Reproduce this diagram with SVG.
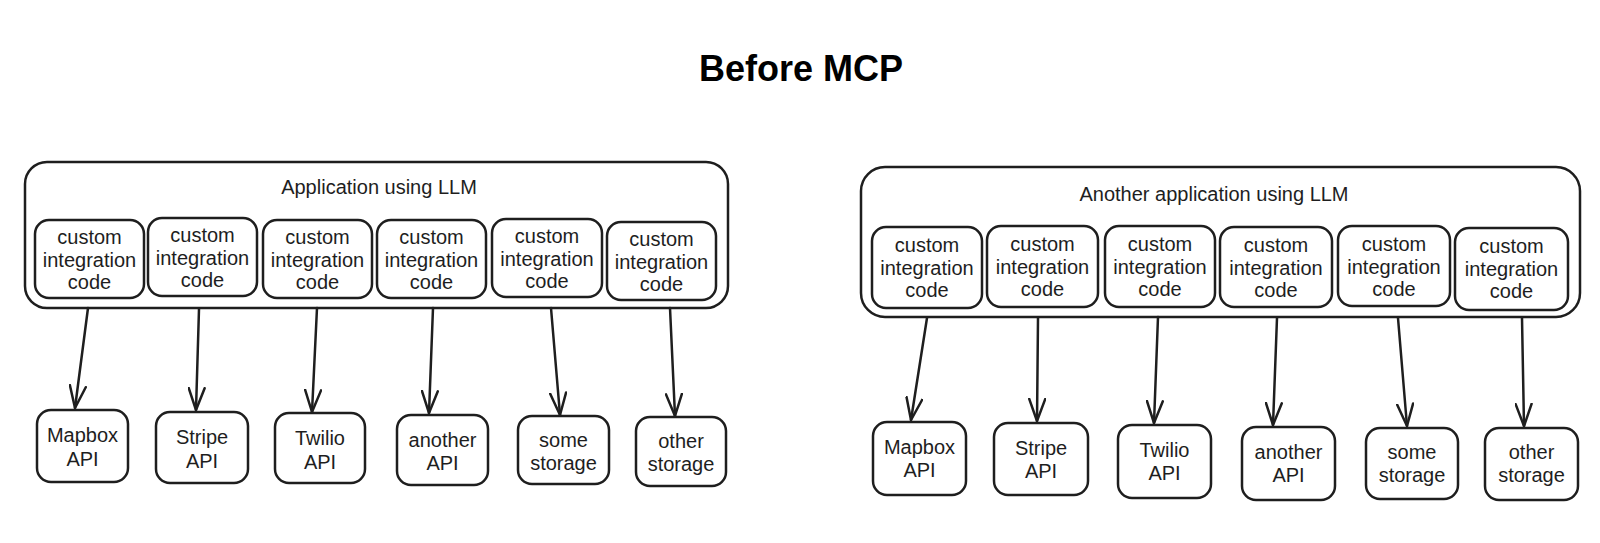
<svg xmlns="http://www.w3.org/2000/svg" width="1600" height="543" viewBox="0 0 1600 543">
<style>
.box{fill:#ffffff;stroke:#1e1e1e;stroke-width:2.5}
.t{font-family:"Liberation Sans","DejaVu Sans",sans-serif;font-size:20px;fill:#1e1e1e;text-anchor:middle}
.title{font-family:"Liberation Sans","DejaVu Sans",sans-serif;font-size:36px;font-weight:700;fill:#000;text-anchor:middle}
.c{fill:none;stroke:#1e1e1e;stroke-width:2.5;stroke-linecap:round}
</style>
<defs>
<marker id="arr" viewBox="0 0 24 18" markerWidth="24" markerHeight="18" refX="23" refY="9" orient="auto" markerUnits="userSpaceOnUse">
<path d="M1,1 L23,9 L1,17" fill="none" stroke="#1e1e1e" stroke-width="2.5" stroke-linecap="round" stroke-linejoin="round"/>
</marker>
</defs>
<rect width="1600" height="543" fill="#ffffff"/>
<text class="title" x="801" y="81">Before MCP</text>

<g id="app-left">
<rect class="box" x="25" y="162" width="703" height="146" rx="22"/>
<text class="t" x="379" y="194">Application using LLM</text>
</g>
<g id="app-right">
<rect class="box" x="861" y="167" width="719" height="150" rx="24"/>
<text class="t" x="1214" y="201">Another application using LLM</text>
</g>

<g id="l-code1"><rect class="box" x="35" y="220" width="109" height="78" rx="14"/><text class="t" x="89.5" y="244">custom</text><text class="t" x="89.5" y="267">integration</text><text class="t" x="89.5" y="289">code</text></g>
<g id="l-code2"><rect class="box" x="148" y="218" width="109" height="78" rx="14"/><text class="t" x="202.5" y="242">custom</text><text class="t" x="202.5" y="265">integration</text><text class="t" x="202.5" y="287">code</text></g>
<g id="l-code3"><rect class="box" x="263" y="220" width="109" height="78" rx="14"/><text class="t" x="317.5" y="244">custom</text><text class="t" x="317.5" y="267">integration</text><text class="t" x="317.5" y="289">code</text></g>
<g id="l-code4"><rect class="box" x="377" y="220" width="109" height="78" rx="14"/><text class="t" x="431.5" y="244">custom</text><text class="t" x="431.5" y="267">integration</text><text class="t" x="431.5" y="289">code</text></g>
<g id="l-code5"><rect class="box" x="492" y="219" width="110" height="78" rx="14"/><text class="t" x="547" y="243">custom</text><text class="t" x="547" y="266">integration</text><text class="t" x="547" y="288">code</text></g>
<g id="l-code6"><rect class="box" x="607" y="222" width="109" height="78" rx="14"/><text class="t" x="661.5" y="246">custom</text><text class="t" x="661.5" y="269">integration</text><text class="t" x="661.5" y="291">code</text></g>

<g id="r-code1"><rect class="box" x="872" y="227" width="110" height="81" rx="14"/><text class="t" x="927" y="252">custom</text><text class="t" x="927" y="275">integration</text><text class="t" x="927" y="297">code</text></g>
<g id="r-code2"><rect class="box" x="987" y="226" width="111" height="81" rx="14"/><text class="t" x="1042.5" y="251">custom</text><text class="t" x="1042.5" y="274">integration</text><text class="t" x="1042.5" y="296">code</text></g>
<g id="r-code3"><rect class="box" x="1105" y="226" width="110" height="81" rx="14"/><text class="t" x="1160" y="251">custom</text><text class="t" x="1160" y="274">integration</text><text class="t" x="1160" y="296">code</text></g>
<g id="r-code4"><rect class="box" x="1220" y="227" width="112" height="80" rx="14"/><text class="t" x="1276" y="252">custom</text><text class="t" x="1276" y="275">integration</text><text class="t" x="1276" y="297">code</text></g>
<g id="r-code5"><rect class="box" x="1338" y="226" width="112" height="80" rx="14"/><text class="t" x="1394" y="251">custom</text><text class="t" x="1394" y="274">integration</text><text class="t" x="1394" y="296">code</text></g>
<g id="r-code6"><rect class="box" x="1455" y="228" width="113" height="82" rx="14"/><text class="t" x="1511.5" y="253">custom</text><text class="t" x="1511.5" y="276">integration</text><text class="t" x="1511.5" y="298">code</text></g>

<g id="l-mapbox"><rect class="box" x="37" y="410" width="91" height="72" rx="14"/><text class="t" x="82.5" y="442">Mapbox</text><text class="t" x="82.5" y="466">API</text></g>
<g id="l-stripe"><rect class="box" x="156" y="412" width="92" height="71" rx="14"/><text class="t" x="202" y="444">Stripe</text><text class="t" x="202" y="468">API</text></g>
<g id="l-twilio"><rect class="box" x="275" y="413" width="90" height="70" rx="14"/><text class="t" x="320" y="445">Twilio</text><text class="t" x="320" y="469">API</text></g>
<g id="l-another"><rect class="box" x="397" y="415" width="91" height="70" rx="14"/><text class="t" x="442.5" y="447">another</text><text class="t" x="442.5" y="470">API</text></g>
<g id="l-some"><rect class="box" x="518" y="416" width="91" height="68" rx="14"/><text class="t" x="563.5" y="447">some</text><text class="t" x="563.5" y="470">storage</text></g>
<g id="l-other"><rect class="box" x="636" y="417" width="90" height="69" rx="14"/><text class="t" x="681" y="448">other</text><text class="t" x="681" y="471">storage</text></g>

<g id="r-mapbox"><rect class="box" x="873" y="422" width="93" height="73" rx="14"/><text class="t" x="919.5" y="454">Mapbox</text><text class="t" x="919.5" y="477">API</text></g>
<g id="r-stripe"><rect class="box" x="994" y="423" width="94" height="72" rx="14"/><text class="t" x="1041" y="455">Stripe</text><text class="t" x="1041" y="478">API</text></g>
<g id="r-twilio"><rect class="box" x="1118" y="425" width="93" height="73" rx="14"/><text class="t" x="1164.5" y="457">Twilio</text><text class="t" x="1164.5" y="480">API</text></g>
<g id="r-another"><rect class="box" x="1242" y="427" width="93" height="73" rx="14"/><text class="t" x="1288.5" y="459">another</text><text class="t" x="1288.5" y="482">API</text></g>
<g id="r-some"><rect class="box" x="1366" y="428" width="92" height="71" rx="14"/><text class="t" x="1412" y="459">some</text><text class="t" x="1412" y="482">storage</text></g>
<g id="r-other"><rect class="box" x="1485" y="428" width="93" height="72" rx="14"/><text class="t" x="1531.5" y="459">other</text><text class="t" x="1531.5" y="482">storage</text></g>

<g id="connectors">
<path class="c" marker-end="url(#arr)" d="M88,308 L75,408"/>
<path class="c" marker-end="url(#arr)" d="M199,309 L196,410"/>
<path class="c" marker-end="url(#arr)" d="M317,308 L312,412"/>
<path class="c" marker-end="url(#arr)" d="M433,308 L429,413"/>
<path class="c" marker-end="url(#arr)" d="M551,308 L560,415"/>
<path class="c" marker-end="url(#arr)" d="M670,308 L675,416"/>
<path class="c" marker-end="url(#arr)" d="M927,318 L911,420"/>
<path class="c" marker-end="url(#arr)" d="M1038,318 L1037,421"/>
<path class="c" marker-end="url(#arr)" d="M1158,317 L1154,423"/>
<path class="c" marker-end="url(#arr)" d="M1277,318 L1273,425"/>
<path class="c" marker-end="url(#arr)" d="M1398,318 L1407,426"/>
<path class="c" marker-end="url(#arr)" d="M1522,318 L1524,426"/>
</g>
</svg>
